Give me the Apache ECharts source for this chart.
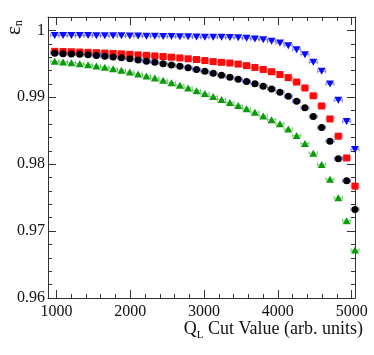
<!DOCTYPE html>
<html>
<head>
<meta charset="utf-8">
<script src="https://cdn.jsdelivr.net/npm/echarts@6/dist/echarts.min.js"></script>
<style>
    html, body { margin: 0; padding: 0; background: #fff; }
    #chart { width: 374px; height: 355px; }
</style>
</head>
<body>
<div id="chart"></div>
<script>
// Q_L cut values (x)
const cutValues = [977, 1090, 1203, 1316, 1429, 1542, 1655, 1768, 1881, 1994,
    2107, 2220, 2333, 2446, 2559, 2672, 2785, 2898, 3011, 3124,
    3237, 3350, 3463, 3576, 3689, 3802, 3915, 4028, 4141, 4254,
    4367, 4480, 4593, 4706, 4819, 4932, 5045];

// efficiencies, one array per marker set
const blueEff = [0.99925, 0.99925, 0.99924, 0.99923, 0.99922, 0.99921, 0.99920, 0.99919, 0.99918, 0.99917,
    0.99915, 0.99913, 0.99911, 0.99909, 0.99907, 0.99905, 0.99903, 0.99900, 0.99897, 0.99898,
    0.99898, 0.99893, 0.99891, 0.99881, 0.99870, 0.99861, 0.99838, 0.99810, 0.99772, 0.99712,
    0.99637, 0.99522, 0.99388, 0.99199, 0.98955, 0.98637, 0.98219];
const redEff = [0.99687, 0.99684, 0.99681, 0.99676, 0.99672, 0.99667, 0.99661, 0.99655, 0.99649, 0.99642,
    0.99634, 0.99627, 0.99618, 0.99609, 0.99599, 0.99588, 0.99576, 0.99564, 0.99549, 0.99533,
    0.99522, 0.99512, 0.99496, 0.99473, 0.99446, 0.99416, 0.99382, 0.99340, 0.99294, 0.99228,
    0.99139, 0.99022, 0.98870, 0.98676, 0.98418, 0.98093, 0.97672];
const blackEff = [0.99657, 0.99652, 0.99648, 0.99642, 0.99634, 0.99625, 0.99615, 0.99603, 0.99590, 0.99575,
    0.99558, 0.99540, 0.99522, 0.99503, 0.99484, 0.99463, 0.99440, 0.99415, 0.99388, 0.99358,
    0.99328, 0.99299, 0.99269, 0.99237, 0.99203, 0.99166, 0.99125, 0.99076, 0.99015, 0.98942,
    0.98842, 0.98712, 0.98548, 0.98343, 0.98082, 0.97751, 0.97324];
const greenEff = [0.99537, 0.99527, 0.99516, 0.99502, 0.99486, 0.99468, 0.99449, 0.99427, 0.99403, 0.99377,
    0.99349, 0.99319, 0.99288, 0.99254, 0.99218, 0.99181, 0.99140, 0.99099, 0.99055, 0.99012,
    0.98967, 0.98922, 0.98876, 0.98827, 0.98776, 0.98722, 0.98666, 0.98603, 0.98525, 0.98428,
    0.98309, 0.98164, 0.97996, 0.97776, 0.97497, 0.97154, 0.96716];

const xMajorTicks = [1000, 2000, 3000, 4000, 5000];
const xMinorTicks = [1200, 1400, 1600, 1800, 2200, 2400, 2600, 2800, 3200, 3400, 3600, 3800,
    4200, 4400, 4600, 4800];
const yMajorTicks = [0.96, 0.97, 0.98, 0.99, 1];
const yMinorTicks = [0.962, 0.964, 0.966, 0.968, 0.972, 0.974, 0.976, 0.978, 0.982, 0.984, 0.986, 0.988,
    0.992, 0.994, 0.996, 0.998];

const xMin = 886, xMax = 5045, yMin = 0.96, yMax = 1.002;
const barHalf = 55;
const frameColor = '#333';
const serif = '"Liberation Serif", "DejaVu Serif", serif';

function pairs(values) {
    return cutValues.map((x, i) => [x, values[i]]);
}

function xAxisDef(position, ticks, len, main) {
    return {
        type: 'value', position: position, min: xMin, max: xMax,
        axisLine: {show: main, onZero: false, lineStyle: {color: frameColor, width: 1}},
        axisTick: {show: true, inside: true, length: len, customValues: ticks,
            lineStyle: {color: frameColor, width: 1}},
        axisLabel: {show: main && position === 'bottom', customValues: xMajorTicks, margin: 6,
            color: '#111', fontFamily: serif, fontSize: 16,
            formatter: v => String(Math.round(v))},
        splitLine: {show: false}
    };
}

function yAxisDef(position, ticks, len, main) {
    return {
        type: 'value', position: position, min: yMin, max: yMax,
        axisLine: {show: main, onZero: false, lineStyle: {color: frameColor, width: 1}},
        axisTick: {show: true, inside: true, length: len, customValues: ticks,
            lineStyle: {color: frameColor, width: 1}},
        axisLabel: {show: main && position === 'left', customValues: yMajorTicks, margin: 3,
            color: '#111', fontFamily: serif, fontSize: 16,
            formatter: v => (Math.abs(v - 1) < 1e-9 ? '1' : v.toFixed(2))},
        splitLine: {show: false}
    };
}

function errorBars(values, color) {
    return {
        type: 'custom', xAxisIndex: 0, yAxisIndex: 0, silent: true, z: 1,
        data: pairs(values),
        renderItem: function (params, api) {
            const l = api.coord([api.value(0) - barHalf, api.value(1)]);
            const r = api.coord([api.value(0) + barHalf, api.value(1)]);
            const st = {stroke: color, lineWidth: 1};
            return {
                type: 'group', children: [
                    {type: 'line', shape: {x1: l[0], y1: l[1], x2: r[0], y2: r[1]}, style: st},
                    {type: 'line', shape: {x1: l[0], y1: l[1] - 2, x2: l[0], y2: l[1] + 2}, style: st},
                    {type: 'line', shape: {x1: r[0], y1: r[1] - 2, x2: r[0], y2: r[1] + 2}, style: st}
                ]
            };
        }
    };
}

function markers(values, color, symbol, size, rotate) {
    return {
        type: 'scatter', xAxisIndex: 0, yAxisIndex: 0, z: 3,
        data: pairs(values), symbol: symbol, symbolSize: size, symbolRotate: rotate || 0,
        itemStyle: {color: color, opacity: 1}
    };
}

let option = {
    animation: false,
    backgroundColor: '#fff',
    grid: {left: 48, right: 19, top: 17, bottom: 57, containLabel: false},
    xAxis: [
        xAxisDef('bottom', xMajorTicks, 8, true),
        xAxisDef('top', xMajorTicks, 8, true),
        xAxisDef('bottom', xMinorTicks, 4, false),
        xAxisDef('top', xMinorTicks, 4, false)
    ],
    yAxis: [
        yAxisDef('left', yMajorTicks, 8, true),
        yAxisDef('right', yMajorTicks, 8, true),
        yAxisDef('left', yMinorTicks, 4, false),
        yAxisDef('right', yMinorTicks, 4, false)
    ],
    graphic: [
        {
            type: 'text', x: 4, y: 35, rotation: Math.PI / 2,
            style: {
                text: '{e|ε}{n|n}',
                rich: {
                    e: {fontFamily: serif, fontSize: 21, fill: '#111'},
                    n: {fontFamily: serif, fontSize: 12, fill: '#111', padding: [9, 0, 0, 0]}
                }
            }
        },
        {
            type: 'text', right: 11, top: 320,
            style: {
                text: '{q|Q}{l|L}{t| Cut Value (arb. units)}',
                rich: {
                    q: {fontFamily: serif, fontSize: 18, fill: '#111'},
                    l: {fontFamily: serif, fontSize: 11, fill: '#111', padding: [12, 0, 0, 0]},
                    t: {fontFamily: serif, fontSize: 18, fill: '#111'}
                }
            }
        }
    ],
    series: [
        errorBars(blueEff, 'rgba(60,60,255,0.55)'),
        errorBars(redEff, 'rgba(255,80,80,0.55)'),
        errorBars(blackEff, 'rgba(60,60,220,0.55)'),
        errorBars(greenEff, 'rgba(40,170,40,0.55)'),
        markers(blueEff, '#0a0aff', 'triangle', [8, 7], 180),
        markers(redEff, '#ff0a0a', 'rect', 7),
        markers(blackEff, '#000', 'circle', 7),
        markers(greenEff, '#0a9a0a', 'triangle', [8, 7])
    ]
};

let myChart = echarts.init(document.querySelector('#chart'));
myChart.setOption(option);
</script>
</body>
</html>
